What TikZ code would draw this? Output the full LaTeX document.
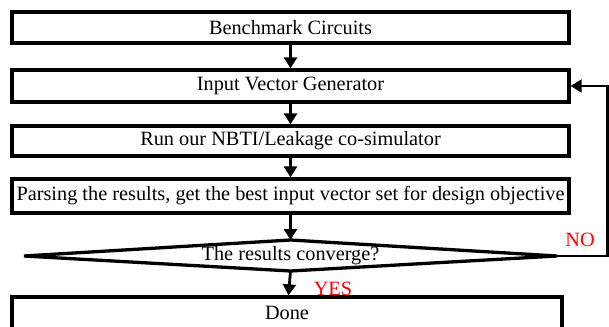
\documentclass[tikz,border=0pt]{standalone}
\usepackage{fontspec}
\setmainfont{Liberation Serif}
\usetikzlibrary{arrows.meta}
\definecolor{labred}{RGB}{255,0,0}
\tikzset{
  stepbox/.style={draw=black, line width=3.3pt, inner sep=0pt, font=\fontsize{20.3}{22}\selectfont},
  flow/.style={line width=2.8pt, -{Triangle[length=11pt,width=13pt]}},
  lbl/.style={text=labred, font=\fontsize{20.3}{22}\selectfont, inner sep=0pt},
}
\begin{document}
\begin{tikzpicture}[x=1pt,y=-1pt]
\useasboundingbox (0,0) rectangle (609,326);
\clip (0,0) rectangle (609,326);
\node[stepbox, minimum width=557pt, minimum height=31pt] (b1) at (290.5,27.5) {Benchmark Circuits};
\node[stepbox, minimum width=557pt, minimum height=32pt] (b2) at (290.5,86) {Input Vector Generator};
\node[stepbox, minimum width=557pt, minimum height=30pt] (b3) at (290.5,141) {Run our NBTI/Leakage co-simulator};
\node[stepbox, minimum width=557pt, minimum height=34pt] (b4) at (290.5,196) {Parsing the results, get the best input vector set for design objective};
% decision diamond
\coordinate (dleft) at (24,256);
\coordinate (dright) at (557,256);
\coordinate (dtop) at (290.5,240);
\coordinate (dbot) at (290.5,271);
\draw[line width=3.3pt, line join=miter] (dleft) -- (dtop) -- (dright) -- (dbot) -- cycle;
\node[font=\fontsize{20.3}{22}\selectfont, inner sep=0pt] (dec) at (290.5,256) {The results converge?};
\node[stepbox, minimum width=550pt, minimum height=32pt] (done) at (287,313) {Done};
% arrows
\draw[flow] (b1) -- (b2);
\draw[flow] (b2) -- (b3);
\draw[flow] (b3) -- (b4);
\draw[flow] (b4) -- (dtop);
\draw[flow] (dbot) -- (done);
\coordinate (lc1) at (607.5,256);
\coordinate (lc2) at (607.5,86);
\draw[line width=2.2pt, -{Triangle[length=11pt,width=13pt]}] (dright) -- (lc1) -- (lc2) -- (b2.east);
\node[lbl] (no) at (580,240) {NO};
\node[lbl] (yes) at (333,289) {YES};
\end{tikzpicture}
\end{document}
